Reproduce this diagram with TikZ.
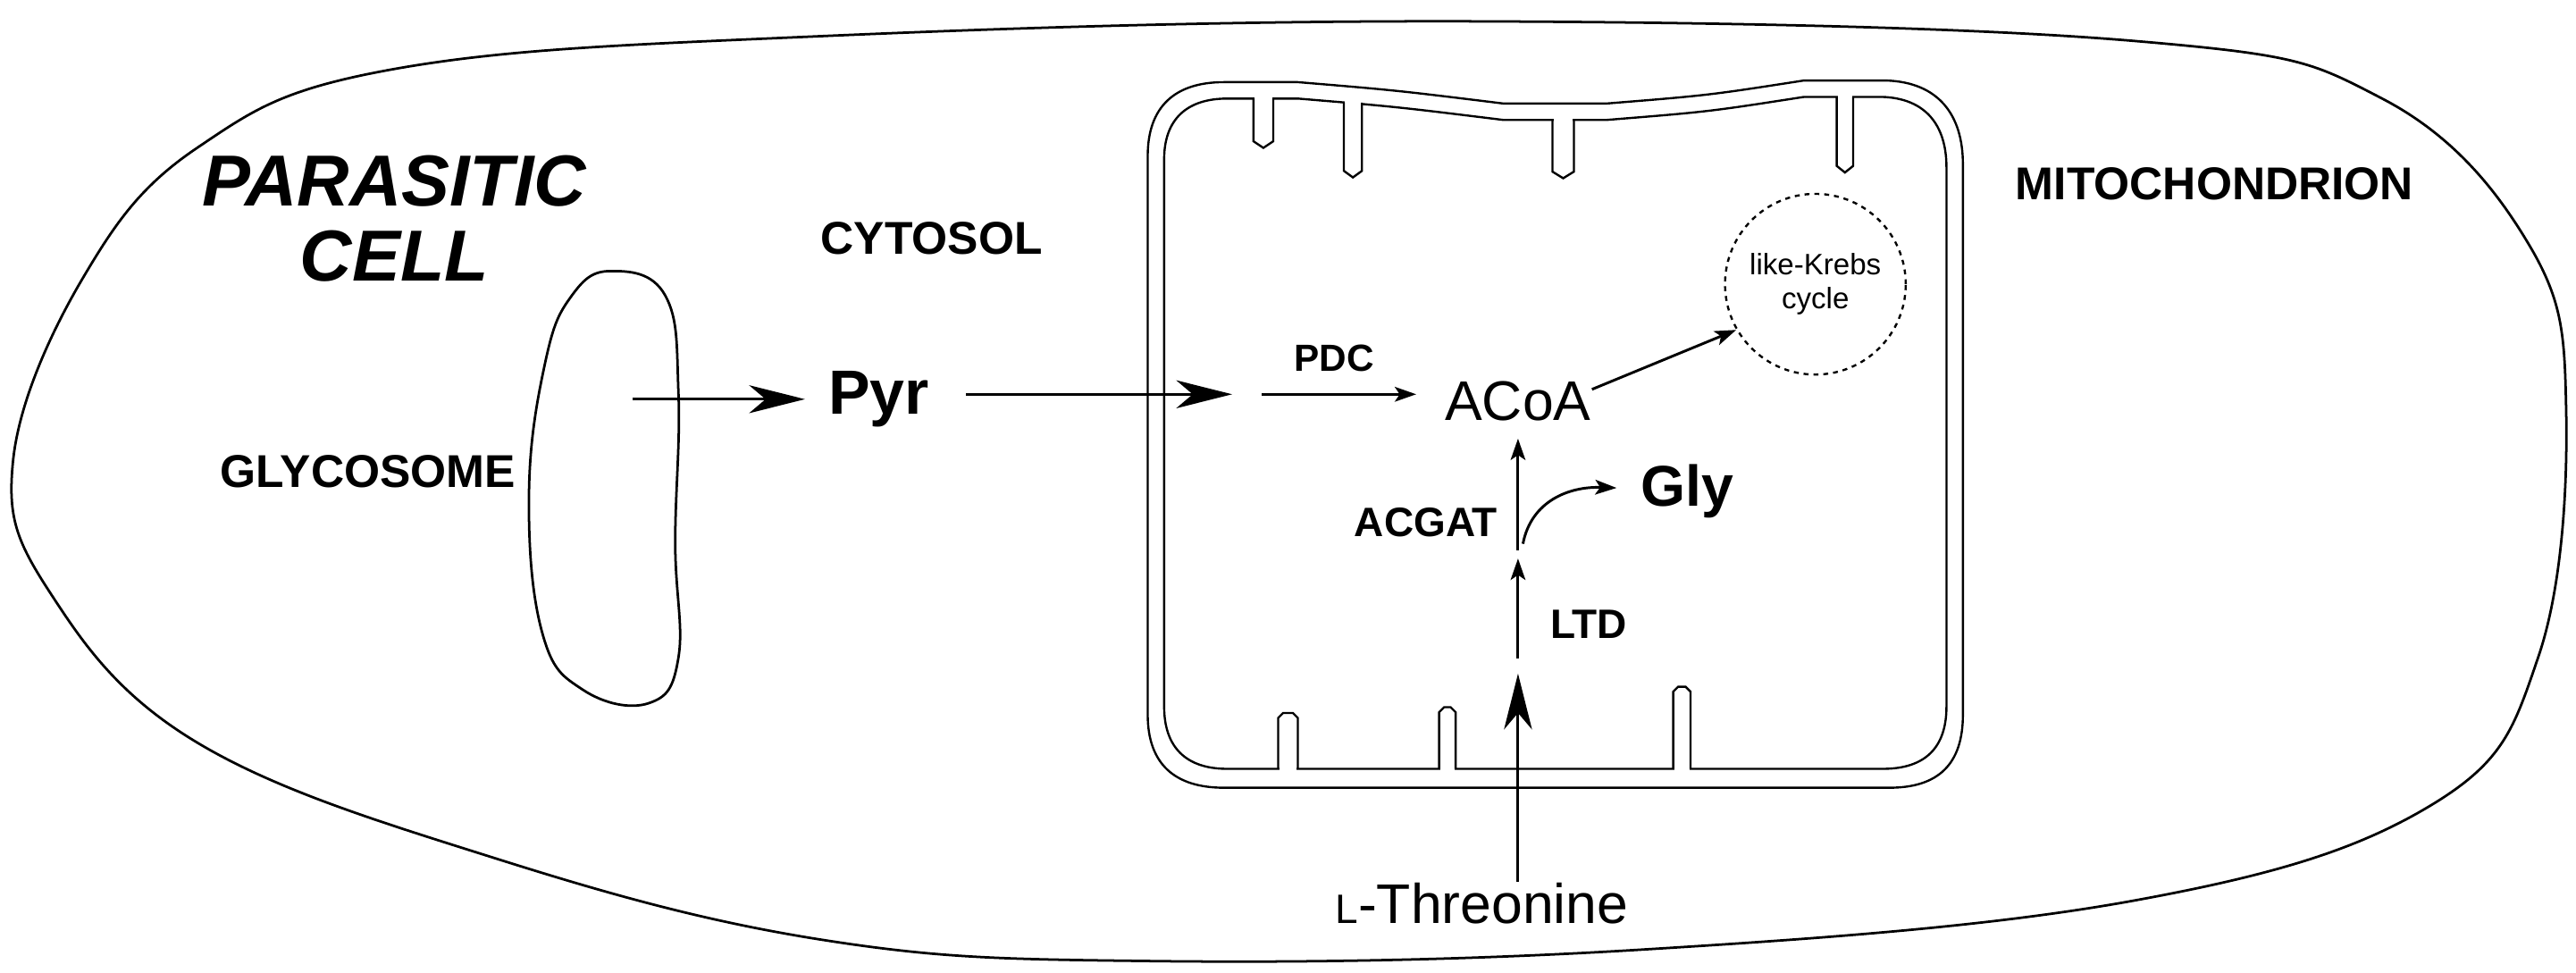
\documentclass[tikz,border=0pt]{standalone}
\usepackage{fontspec}
\setmainfont{Liberation Sans}
\usetikzlibrary{arrows.meta}
\begin{document}
\begin{tikzpicture}[x=1pt,y=-1pt,line width=1.6pt,
  big/.style={-{Stealth[length=34pt,width=17pt,inset=10pt]}},
  small/.style={-{Stealth[length=13pt,width=9pt,inset=3pt]}},
  memb/.style={line width=1.3pt},
  lab/.style={font=\bfseries\fontsize{28}{30}\selectfont,inner sep=0pt},
  met/.style={font=\fontsize{34}{36}\selectfont,inner sep=0pt}]
\useasboundingbox (0,0) rectangle (1568,592);
% cell
\draw[line width=1.5pt] plot[smooth cycle,tension=0.65] coordinates{
 (240,42) (500,22) (900,13) (1300,25) (1450,60) (1540,150) (1562,250)
 (1545,400) (1480,490) (1300,548) (1000,578) (700,585) (500,572) (300,522)
 (120,452) (30,360) (8,280) (50,170) (120,90)};
% glycosome
\draw[line width=1.5pt] plot[smooth cycle,tension=0.7] coordinates{
 (372,165) (405,180) (413,240) (411,330) (413,400) (395,428) (355,420)
 (330,385) (322,300) (332,220) (348,180)};
% mitochondrion
\draw[memb] (698.6,95) .. controls (698.6,65) and (715,50) .. (745,50) -- (790,50)
 .. controls (850,55) .. (915,63) -- (978,63) .. controls (1040,58) .. (1098,49) -- (1148,49)
 .. controls (1180,50) and (1194.8,70) .. (1194.8,100) -- (1194.8,435)
 .. controls (1194.8,465) and (1180,479.5) .. (1150,479.5) -- (745,479.5)
 .. controls (715,479.5) and (698.6,465) .. (698.6,435) -- cycle;
\draw[memb] (708.6,97) .. controls (708.6,73) and (722,60) .. (747,60) -- (790,60)
 .. controls (850,65) .. (915,73) -- (978,73) .. controls (1040,68) .. (1098,59) -- (1146,59)
 .. controls (1172,60) and (1184.8,76) .. (1184.8,102) -- (1184.8,430)
 .. controls (1184.8,455) and (1172,468) .. (1146,468) -- (747,468)
 .. controls (722,468) and (708.6,455) .. (708.6,430) -- cycle;
% cristae (top)
\foreach \a/\b/\t/\e in {763/775/60/90, 818/829/62.5/108, 945/958/73/108.5, 1118/1128/59/105}{
  \fill[white] (\a+0.7,\t-3) rectangle (\b-0.7,\t+3);
  \draw[memb] (\a,\t) -- (\a,\e-4) -- ({(\a+\b)/2},\e) -- (\b,\e-4) -- (\b,\t);
}
% cristae (bottom)
\foreach \a/\b/\e in {778/790/434, 876/886/430.5, 1018.5/1029/418}{
  \fill[white] (\a+0.7,465) rectangle (\b-0.7,471);
  \draw[memb] (\a,468) -- (\a,\e+3) -- (\a+3,\e) -- (\b-3,\e) -- (\b,\e+3) -- (\b,468);
}
% krebs circle
\node[circle,draw,dashed,line width=1.3pt,minimum size=110pt,inner sep=0pt,align=center,
  font=\fontsize{18}{21}\selectfont] (krebs) at (1105,173) {like-Krebs\\cycle};
% texts
\node[font=\bfseries\itshape\fontsize{44}{46}\selectfont,align=center,inner sep=0pt] (pc) at (240,133) {PARASITIC\\CELL};
\node[lab] (cyt) at (567,145) {CYTOSOL};
\node[lab] (mit) at (1348,112) {MITOCHONDRION};
\node[lab] (gly) at (224,287) {GLYCOSOME};
\node[met,font=\bfseries\fontsize{38}{40}\selectfont] (pyr) at (535,243) {Pyr};
\node[lab,font=\bfseries\fontsize{23}{25}\selectfont] (pdc) at (812,218) {PDC};
\node[met] (acoa) at (924,244) {ACoA};
\node[met,font=\bfseries\fontsize{35}{37}\selectfont] (glyc) at (1027,299) {Gly};
\node[lab,font=\bfseries\fontsize{25}{27}\selectfont] (acgat) at (868,318) {ACGAT};
\node[lab,font=\bfseries\fontsize{25}{27}\selectfont] (ltd) at (967,380) {LTD};
\node[met,font=\fontsize{34}{36}\selectfont] (thr) at (902,550) {{\fontsize{25}{27}\selectfont L}-Threonine};
% coordinates
\coordinate (g1) at (385,243);
\coordinate (g2) at (490,243);
\coordinate (p1) at (588,240);
\coordinate (p2) at (750,240);
\coordinate (d1) at (768,240);
\coordinate (d2) at (862,240);
\coordinate (k1) at (969,237);
\coordinate (v0) at (924,520);
\coordinate (v1) at (924,410);
\coordinate (v2) at (924,401);
\coordinate (v3) at (924,340);
\coordinate (v4) at (924,335);
\coordinate (v5) at (924,267);
\coordinate (c1) at (927,331);
\coordinate (c2) at (984,297);
% arrows
\draw[big] (thr.north -| v0) -- (v1);
\draw[big] (g1) -- (g2);
\draw[big] (p1) -- (p2);
\draw[small] (d1) -- (d2);
\draw[small] (k1) -- (krebs.-150);
\draw[small] (v2) -- (v3);
\draw[small] (v4) -- (v5);
\draw[small] (c1) .. controls (932,305) and (955,296) .. (c2);
\end{tikzpicture}
\end{document}
